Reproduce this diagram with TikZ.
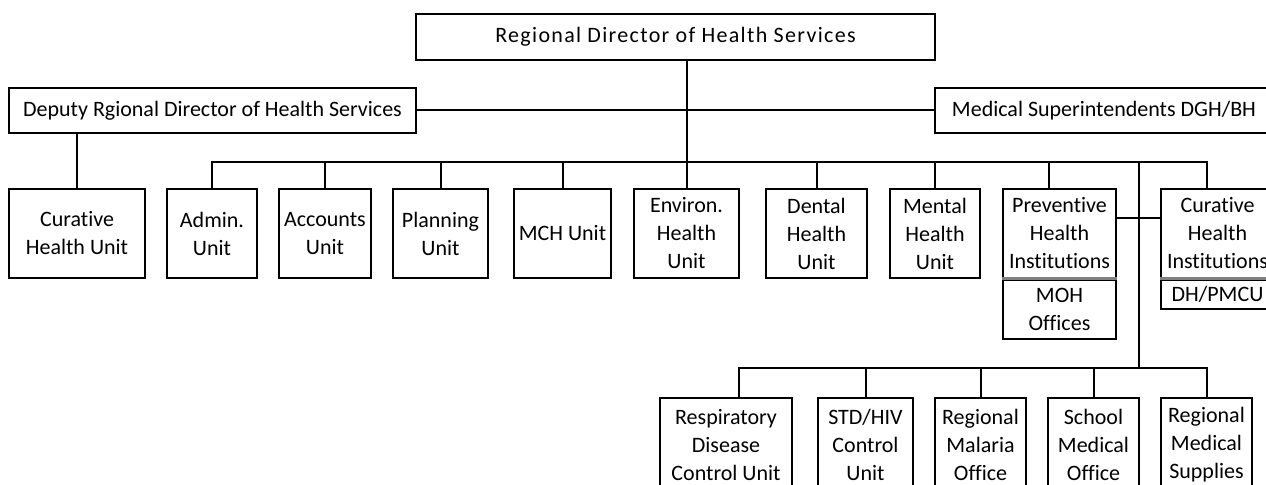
\documentclass[tikz,border=0pt]{standalone}
\usepackage{fontspec}
\setmainfont{Carlito}[Ligatures=NoCommon]
\usetikzlibrary{positioning}

\begin{document}
\begin{tikzpicture}[
    x=0.5pt, y=-0.5pt, node distance=0pt,
    box/.style={draw, line width=1pt, align=center, inner sep=1pt,
                font=\fontsize{11}{14}\selectfont},
    head/.style={box, minimum height=22.5pt},
    unit/.style={box, minimum height=44.5pt},
    office/.style={box, minimum height=47pt},
    link/.style={line width=1pt},
    divider/.style={draw=black!50, line width=1.5pt}
  ]
  \useasboundingbox (0,0) rectangle (1266,485);
  \clip (0,0) rectangle (1266,485);

  % top level
  \node[box, minimum width=259.5pt, minimum height=23pt,
        font=\fontsize{11}{14}\selectfont\addfontfeature{LetterSpace=6}] (rdhs) at (675.5,37)
    {Regional Director of Health Services};
  \node[head, minimum width=203.5pt] (drdhs) at (212.5,110.5)
    {Deputy Rgional Director of Health Services};
  \node[head, minimum width=169pt] (msup) at (1104,110.5)
    {Medical Superintendents DGH/BH};

  % units
  \node[unit, minimum width=68pt]   (curu) at (77,233.5)    {Curative\\Health Unit};
  \node[unit, minimum width=45pt]   (adm)  at (212,233.5)   {Admin.\\Unit};
  \node[unit, minimum width=46pt]   (acc)  at (325,233.5)   {Accounts\\Unit};
  \node[unit, minimum width=47.5pt] (plan) at (440.5,233.5) {Planning\\Unit};
  \node[unit, minimum width=48.5pt] (mch)  at (562.5,233.5) {MCH Unit};
  \node[unit, minimum width=52.5pt] (envh) at (686.5,233.5) {Environ.\\Health\\Unit};
  \node[unit, minimum width=50.5pt] (dent) at (816.5,233.5) {Dental\\Health\\Unit};
  \node[unit, minimum width=45pt]   (ment) at (935,233.5)   {Mental\\Health\\Unit};
  \node[unit, minimum width=56.5pt] (prev) at (1059.5,233.5) {Preventive\\Health\\Institutions};
  \node[unit, minimum width=56.5pt] (curi) at (1217.5,233.5) {Curative\\Health\\Institutions};
  \node[box, minimum width=56.5pt, minimum height=29.5pt, below=of prev] (moh) {MOH\\Offices};
  \node[box, minimum width=56.5pt, minimum height=14.5pt, below=of curi] (dhp) {DH/PMCU};
  \draw[divider] (prev.south west) -- (prev.south east);
  \draw[divider] (curi.south west) -- (curi.south east);

  % regional offices
  \node[office, minimum width=66pt]   (resp) at (726,445)    {Respiratory\\Disease\\Control Unit};
  \node[office, minimum width=47.5pt] (stdh) at (865.5,445)  {STD/HIV\\Control\\Unit};
  \node[office, minimum width=45.5pt] (mal)  at (980.5,445)  {Regional\\Malaria\\Office};
  \node[office, minimum width=45.5pt] (sch)  at (1093.5,445) {School\\Medical\\Office};
  \node[office, minimum width=45.5pt] (rms)  at (1206.5,445) {Regional\\Medical\\Supplies};

  \coordinate (bus) at (0,162);
  \coordinate (lowbus) at (0,368);
  \coordinate (hub) at (1138.5,162);
  % drop points that sit off the box centres
  \coordinate (prevtop) at ([xshift=-5.5pt]prev.north);
  \coordinate (curitop) at ([xshift=-5.5pt]curi.north);
  \coordinate (resptop) at ([xshift=6.5pt]resp.north);

  % connectors
  \draw[link] (drdhs) -- (msup);
  \draw[link] (rdhs.south -| envh) -- (envh);
  \draw[link] (drdhs.south -| curu) -- (curu);
  \draw[link] (adm) -- (adm |- bus) -- (curitop |- bus) -- (curitop);
  \foreach \n in {acc,plan,mch,dent,ment}
    \draw[link] (\n |- bus) -- (\n);
  \draw[link] (prevtop |- bus) -- (prevtop);
  \draw[link] ([yshift=7.75pt]prev.east) -- ([yshift=7.75pt]curi.west);
  \draw[link] (hub) -- (hub |- lowbus);
  \draw[link] (resptop) -- (resptop |- lowbus) -- (rms |- lowbus) -- (rms);
  \foreach \n in {stdh,mal,sch}
    \draw[link] (\n |- lowbus) -- (\n);
\end{tikzpicture}
\end{document}
